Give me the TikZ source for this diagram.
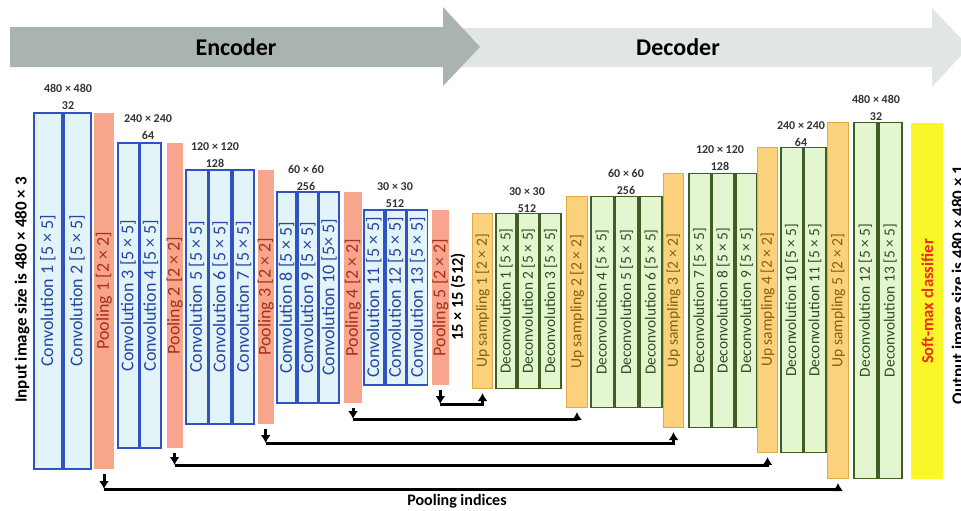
\documentclass[tikz,border=0pt]{standalone}
\usepackage{fontspec}
\setmainfont{Carlito}
\usepackage{graphicx}
\usepackage{xcolor}
\usepackage{tikz}
\usetikzlibrary{positioning,arrows.meta}

\definecolor{encgray}{HTML}{AAB4AF}
\definecolor{decgray}{HTML}{E0E6E2}
\definecolor{convfill}{HTML}{E2F4F8}
\definecolor{convline}{HTML}{3052C4}
\definecolor{convtext}{HTML}{2546A0}
\definecolor{poolfill}{HTML}{F7A58D}
\definecolor{pooltext}{HTML}{A8301C}
\definecolor{upfill}{HTML}{FBD27B}
\definecolor{upline}{HTML}{E2AA45}
\definecolor{uptext}{HTML}{856012}
\definecolor{deconvfill}{HTML}{E4F6CF}
\definecolor{deconvline}{HTML}{3F5E25}
\definecolor{deconvtext}{HTML}{304C24}
\definecolor{softfill}{HTML}{FAF629}
\definecolor{softtext}{HTML}{EC2A1E}

\newcommand{\vlabel}[1]{\rotatebox{90}{#1}}

\begin{document}
\begin{tikzpicture}[
        x=0.5pt, y=-0.5pt,
        conv/.style={rectangle, draw=convline, line width=0.9pt, fill=convfill,
                     text=convtext, inner sep=0pt, font=\fontsize{9}{10}\selectfont},
        pool/.style={rectangle, fill=poolfill, text=pooltext, inner sep=0pt,
                     font=\fontsize{9}{10}\selectfont},
        upsamp/.style={rectangle, draw=upline, line width=0.5pt, fill=upfill,
                     text=uptext, inner sep=0pt, font=\fontsize{7.8}{9}\selectfont},
        deconv/.style={rectangle, draw=deconvline, line width=0.9pt, fill=deconvfill,
                     text=deconvtext, inner sep=0pt, font=\fontsize{7.7}{9}\selectfont},
        s480/.style={minimum height=178pt},
        s240/.style={minimum height=152.5pt},
        s120/.style={minimum height=127pt},
        s60/.style={minimum height=105.5pt},
        s30/.style={minimum height=87.5pt},
        dims/.style={font=\bfseries\fontsize{6}{8.5}\selectfont, align=center, text=black!80},
        sidetext/.style={font=\bfseries\fontsize{8.5}{10}\selectfont, inner sep=0pt},
        idx/.style={-{Latex[length=4pt,width=5pt]}, line width=1.5pt, shorten <=2.5pt}
      ]
        \useasboundingbox (0,0) rectangle (961,510);

        % Encoder / decoder banners
        \fill[decgray] (440,28) -- (932,28) -- (932,8) -- (969,47) -- (932,87) -- (932,67) -- (440,67) -- cycle;
        \fill[encgray] (10,27) -- (443,27) -- (443,7) -- (480,47) -- (443,86) -- (443,67) -- (10,67) -- cycle;
        \node[font=\bfseries\fontsize{12}{14}\selectfont] (enc) at (236,47) {Encoder};
        \node[font=\bfseries\fontsize{12}{14}\selectfont] (dec) at (678,47) {Decoder};

        % Input
        \node[sidetext] (input) at (22,290) {\vlabel{Input image size is 480 × 480 × 3}};

        % Encoder blocks
        \node[conv, s480, minimum width=14pt, anchor=north west] (conv1) at (33,112) {\vlabel{Convolution 1 [5 × 5]}};
        \node[conv, s480, minimum width=13.5pt, right=0pt of conv1] (conv2) {\vlabel{Convolution 2 [5 × 5]}};
        \node[pool, s480, minimum width=10pt, right=1pt of conv2] (pool1) {\vlabel{Pooling 1 [2 × 2]}};

        \node[conv, s240, minimum width=10.25pt, anchor=north west] (conv3) at (117,142) {\vlabel{Convolution 3 [5 × 5]}};
        \node[conv, s240, minimum width=10.5pt, right=0pt of conv3] (conv4) {\vlabel{Convolution 4 [5 × 5]}};
        \node[pool, s240, minimum width=8pt, right=2pt of conv4] (pool2) {\vlabel{Pooling 2 [2 × 2]}};

        \node[conv, s120, minimum width=10.8pt, anchor=north west] (conv5) at (185,169) {\vlabel{Convolution 5 [5 × 5]}};
        \node[conv, s120, minimum width=10.8pt, right=0pt of conv5] (conv6) {\vlabel{Convolution 6 [5 × 5]}};
        \node[conv, s120, minimum width=10.8pt, right=0pt of conv6] (conv7) {\vlabel{Convolution 7 [5 × 5]}};
        \node[pool, s120, minimum width=8pt, right=1pt of conv7] (pool3) {\vlabel{Pooling 3 [2 × 2]}};

        \node[conv, s60, minimum width=9.7pt, anchor=north west] (conv8) at (276,191) {\vlabel{Convolution 8 [5 × 5]}};
        \node[conv, s60, minimum width=9.7pt, right=0pt of conv8] (conv9) {\vlabel{Convolution 9 [5 × 5]}};
        \node[conv, s60, minimum width=9.7pt, right=0pt of conv9] (conv10) {\vlabel{Convolution 10 [5× 5]}};
        \node[pool, s60, minimum width=9pt, right=2pt of conv10] (pool4) {\vlabel{Pooling 4 [2 × 2]}};

        \node[conv, s30, minimum width=10pt, anchor=north west] (conv11) at (363,209) {\vlabel{Convolution 11 [5 × 5]}};
        \node[conv, s30, minimum width=10pt, right=0pt of conv11] (conv12) {\vlabel{Convolution 12 [5 × 5]}};
        \node[conv, s30, minimum width=10pt, right=0pt of conv12] (conv13) {\vlabel{Convolution 13 [5 × 5]}};
        \node[pool, s30, minimum width=8.5pt, right=1.5pt of conv13] (pool5) {\vlabel{Pooling 5 [2 × 2]}};

        \node[sidetext, font=\bfseries\fontsize{8.2}{10}\selectfont] (bottleneck) at (458,297) {\vlabel{15 × 15 (512)}};

        % Decoder blocks
        \node[upsamp, s30, minimum width=10pt, anchor=north west] (up1) at (472,213) {\vlabel{Up sampling 1 [2 × 2]}};
        \node[deconv, s30, minimum width=10.2pt, right=1pt of up1] (deconv1) {\vlabel{Deconvolution 1 [5 × 5]}};
        \node[deconv, s30, minimum width=10.2pt, right=0pt of deconv1] (deconv2) {\vlabel{Deconvolution 2 [5 × 5]}};
        \node[deconv, s30, minimum width=10.2pt, right=0pt of deconv2] (deconv3) {\vlabel{Deconvolution 3 [5 × 5]}};

        \node[upsamp, s60, minimum width=10.5pt, anchor=north west] (up2) at (566,196) {\vlabel{Up sampling 2 [2 × 2]}};
        \node[deconv, s60, minimum width=11.3pt, right=1pt of up2] (deconv4) {\vlabel{Deconvolution 4 [5 × 5]}};
        \node[deconv, s60, minimum width=11.3pt, right=0pt of deconv4] (deconv5) {\vlabel{Deconvolution 5 [5 × 5]}};
        \node[deconv, s60, minimum width=11.3pt, right=0pt of deconv5] (deconv6) {\vlabel{Deconvolution 6 [5 × 5]}};

        \node[upsamp, s120, minimum width=10pt, anchor=north west] (up3) at (663,173) {\vlabel{Up sampling 3 [2 × 2]}};
        \node[deconv, s120, minimum width=10.8pt, right=2pt of up3] (deconv7) {\vlabel{Deconvolution 7 [5 × 5]}};
        \node[deconv, s120, minimum width=10.8pt, right=0pt of deconv7] (deconv8) {\vlabel{Deconvolution 8 [5 × 5]}};
        \node[deconv, s120, minimum width=10.8pt, right=0pt of deconv8] (deconv9) {\vlabel{Deconvolution 9 [5 × 5]}};

        \node[upsamp, s240, minimum width=10pt, anchor=north west] (up4) at (757,147) {\vlabel{Up sampling 4 [2 × 2]}};
        \node[deconv, s240, minimum width=10.75pt, right=1pt of up4] (deconv10) {\vlabel{Deconvolution 10 [5 × 5]}};
        \node[deconv, s240, minimum width=10.75pt, right=0pt of deconv10] (deconv11) {\vlabel{Deconvolution 11 [5 × 5]}};

        \node[upsamp, s480, minimum width=10.5pt, anchor=north west] (up5) at (827,122) {\vlabel{Up sampling 5 [2 × 2]}};
        \node[deconv, s480, minimum width=11.5pt, right=2pt of up5] (deconv12) {\vlabel{Deconvolution 12 [5 × 5]}};
        \node[deconv, s480, minimum width=11.5pt, right=0pt of deconv12] (deconv13) {\vlabel{Deconvolution 13 [5 × 5]}};

        % Classifier and output
        \node[rectangle, fill=softfill, text=softtext, s480, minimum width=16pt, inner sep=0pt,
              anchor=north west, font=\bfseries\fontsize{8.3}{10}\selectfont] (softmax) at (911,123) {\vlabel{Soft-max classifier}};
        \node[sidetext] (output) at (959,285) {\vlabel{Output image size is 480 × 480 × 1}};

        % Sizes and channels
        \node[dims] (dim1) at (68,97) {480 × 480\\32};
        \node[dims] (dim2) at (148,127) {240 × 240\\64};
        \node[dims] (dim3) at (215,155) {120 × 120\\128};
        \node[dims] (dim4) at (306,178) {60 × 60\\256};
        \node[dims] (dim5) at (395,195.5) {30 × 30\\512};
        \node[dims] (dim6) at (527,200) {30 × 30\\512};
        \node[dims] (dim7) at (626,182) {60 × 60\\256};
        \node[dims] (dim8) at (720,158.5) {120 × 120\\128};
        \node[dims] (dim9) at (801,134) {240 × 240\\64};
        \node[dims] (dim10) at (876,108) {480 × 480\\32};

        % Pooling indices
        \coordinate (bend1) at (pool1.south |- 0,489);
        \coordinate (bend2) at (pool2.south |- 0,465);
        \coordinate (bend3) at (pool3.south |- 0,443);
        \coordinate (bend4) at (pool4.south |- 0,419);
        \coordinate (bend5) at (pool5.south |- 0,404);
        \draw[idx] (pool1) -- (bend1);
        \draw[idx, shorten <=0pt, shorten >=2pt] (bend1) -| (up5);
        \draw[idx] (pool2) -- (bend2);
        \draw[idx, shorten <=0pt, shorten >=2pt] (bend2) -| (up4);
        \draw[idx] (pool3) -- (bend3);
        \draw[idx, shorten <=0pt, shorten >=2pt] (bend3) -| (up3);
        \draw[idx] (pool4) -- (bend4);
        \draw[idx, shorten <=0pt, shorten >=2pt] (bend4) -| (up2);
        \draw[idx] (pool5) -- (bend5);
        \draw[idx, shorten <=0pt, shorten >=2pt] (bend5) -| (up1);

        \node[font=\bfseries\fontsize{8}{10}\selectfont] (indices) at (457,501) {Pooling indices};
      \end{tikzpicture}
\end{document}
